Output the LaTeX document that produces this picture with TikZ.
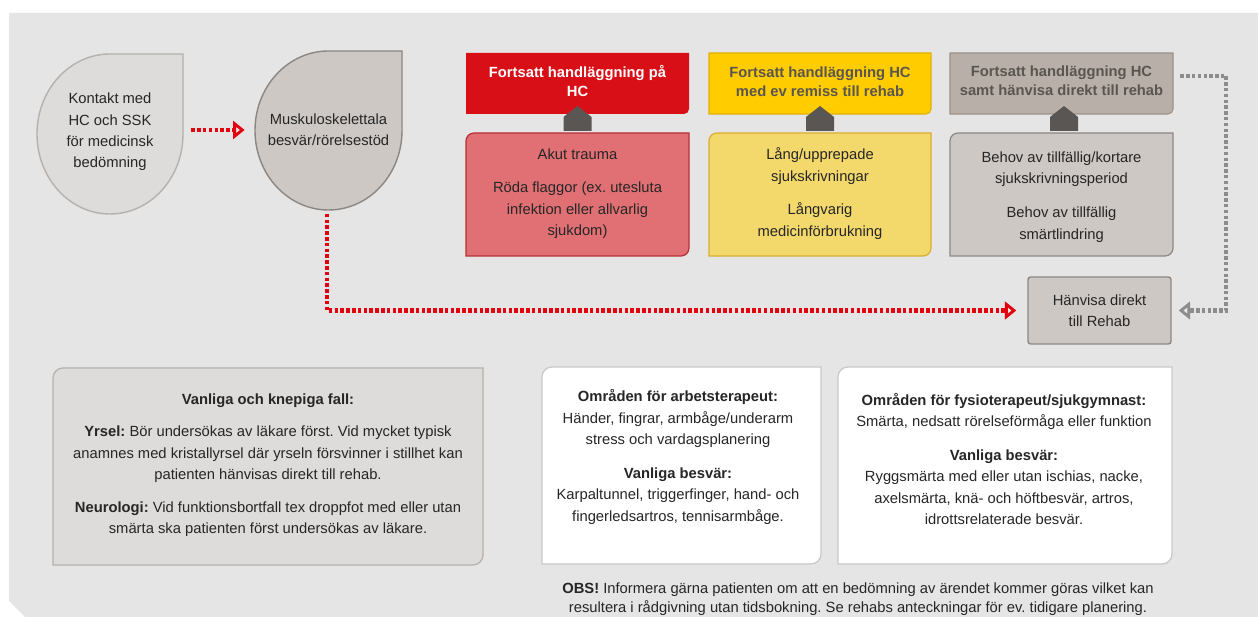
\documentclass[tikz,border=0pt]{standalone}
\usepackage{fontspec}
\setmainfont{Liberation Sans}
\usepackage{xcolor}
\usetikzlibrary{arrows.meta, positioning}
\frenchspacing
\definecolor{panelgrey}{HTML}{E5E5E5}
\definecolor{inktext}{HTML}{262626}
\definecolor{dropfill}{HTML}{DEDCDA}
\definecolor{dropline}{HTML}{B4B1AE}
\definecolor{stonefill}{HTML}{CDC8C4}
\definecolor{stoneline}{HTML}{8C8783}
\definecolor{hcred}{HTML}{D90F17}
\definecolor{hcredlight}{HTML}{E07074}
\definecolor{hcredline}{HTML}{B83036}
\definecolor{remissyellow}{HTML}{FFCC00}
\definecolor{remissyellowline}{HTML}{E0B000}
\definecolor{remisslight}{HTML}{F3D86C}
\definecolor{remisslightline}{HTML}{D8B030}
\definecolor{directgrey}{HTML}{B7AFA8}
\definecolor{directgreyline}{HTML}{9A928B}
\definecolor{headink}{HTML}{5A5550}
\definecolor{housegrey}{HTML}{5A5654}
\definecolor{flowred}{HTML}{E3000F}
\definecolor{flowgrey}{HTML}{8C8C8C}
\definecolor{whiteline}{HTML}{C8C8C8}

% box with rounded top-left and bottom-right corners
\newcommand{\cornerbox}[7]{%
  \path[#7] (#1,#2+#5) -- (#1,#4) -- (#3-#6,#4) arc[start angle=90, end angle=0, radius=#6]
    -- (#3,#2) -- (#1+#5,#2) arc[start angle=270, end angle=180, radius=#5] -- cycle;}

\begin{document}
\begin{tikzpicture}[x=0.02cm, y=-0.02cm,
    flowtext/.style={font=\fontsize{8.4}{12.2}\selectfont, text=inktext, align=center, inner sep=0pt},
    headtext/.style={font=\fontsize{8.4}{10.6}\selectfont\bfseries, align=center, inner sep=0pt},
    headbox/.style={minimum width=4.46cm, minimum height=1.22cm},
    redflow/.style={draw=flowred, line width=2.3pt, dash pattern=on 2pt off 1.3pt,
      -{Triangle[open, length=6.5pt, width=10pt, line width=2pt]}},
    greyflow/.style={redflow, draw=flowgrey}]
        % Canvas
        \fill[white] (0,0) rectangle (1258,617);
        \useasboundingbox (0,0) rectangle (1258,617);
        \fill[panelgrey] (9,13) -- (1258,13) -- (1258,617) -- (25,617) -- (9,601) -- cycle;

        % Drops
        \filldraw[fill=dropfill, draw=dropline, line width=0.8pt] (183,54) -- (183,134)
            arc[start angle=0, end angle=270, x radius=73, y radius=80] -- cycle;
        \filldraw[fill=stonefill, draw=stoneline, line width=0.8pt] (402,51) -- (402,130.5)
            arc[start angle=0, end angle=270, x radius=73.5, y radius=79.5] -- cycle;
        \node[flowtext, minimum width=2.92cm, minimum height=3.2cm] (contact) at (110,132)
            {Kontakt med\\HC och SSK\\för medicinsk\\bedömning};
        \node[flowtext, minimum width=2.94cm, minimum height=3.18cm] (msk) at (328.5,130)
            {Muskuloskelettala\\besvär/rörelsestöd};

        % Headers
        \cornerbox{466}{53}{689}{114}{0.01}{5}{fill=hcred}
        \cornerbox{709}{53}{931}{114}{0.01}{5}{fill=remissyellow, draw=remissyellowline, line width=0.6pt}
        \cornerbox{950}{53}{1173}{114}{0.01}{5}{fill=directgrey, draw=directgreyline, line width=0.6pt}
        \node[headtext, headbox, text=white] (redhead) at (577.5,81) {Fortsatt handläggning på\\HC};
        \node[headtext, headbox, text=headink] (yellowhead) at (820,82) {Fortsatt handläggning HC\\med ev remiss till rehab};
        \node[headtext, headbox, text=headink] (greyhead) at (1061.5,80.5) {Fortsatt handläggning HC\\samt hänvisa direkt till rehab};

        % Criteria
        \cornerbox{466}{133}{689}{256}{8}{8}{fill=hcredlight, draw=hcredline, line width=0.7pt}
        \cornerbox{709}{133}{931}{256}{8}{8}{fill=remisslight, draw=remisslightline, line width=0.7pt}
        \cornerbox{950}{133}{1173}{256}{8}{8}{fill=stonefill, draw=stoneline, line width=0.7pt}
        \node[flowtext] (redbody) at (577.5,194)
            {Akut trauma\\[6.5pt]Röda flaggor (ex. utesluta\\infektion eller allvarlig\\sjukdom)};
        \node[flowtext] (yellowbody) at (820,193.5)
            {Lång/upprepade\\sjukskrivningar\\[7pt]Långvarig\\medicinförbrukning};
        \node[flowtext] (greybody) at (1061.5,197)
            {Behov av tillfällig/kortare\\sjukskrivningsperiod\\[7pt]Behov av tillfällig\\smärtlindring};

        % Houses
        \foreach \cx in {577.5,820,1064} {
            \fill[housegrey] (\cx-14,131) -- (\cx-14,117) -- (\cx,106) -- (\cx+14,117) -- (\cx+14,131) -- cycle;
        }

        % Rehab
        \node[flowtext, fill=stonefill, draw=stoneline, line width=0.8pt, rounded corners=1.5pt,
            minimum width=2.86cm, minimum height=1.34cm] (rehab) at (1099.5,310.5) {Hänvisa direkt\\till Rehab};

        % Flows
        \draw[redflow, shorten <=0.16cm, shorten >=0.2cm] (contact.east |- msk.west) -- (msk.west);
        \draw[redflow, shorten <=0.08cm, shorten >=0.22cm] ([xshift=-0.03cm]msk.south) |- (rehab.west);
        \draw[greyflow, shorten <=0.14cm, shorten >=0.14cm] ([yshift=0.09cm]greyhead.east) -- ++(53,0) |- (rehab.east);

        % Notes
        \cornerbox{53}{368}{483}{565}{10}{10}{fill=dropfill, draw=dropline, line width=0.7pt}
        \cornerbox{542}{367}{821}{564}{10}{10}{fill=white, draw=whiteline, line width=0.7pt}
        \cornerbox{838}{367}{1172}{564}{10}{10}{fill=white, draw=whiteline, line width=0.7pt}
        \node[flowtext] (cases) at (268,465.5)
            {\textbf{Vanliga och knepiga fall:}\\[6pt]
             \textbf{Yrsel:} Bör undersökas av läkare först. Vid mycket typisk\\
             anamnes med kristallyrsel där yrseln försvinner i stillhet kan\\
             patienten hänvisas direkt till rehab.\\[6.5pt]
             \textbf{Neurologi:} Vid funktionsbortfall tex droppfot med eller utan\\
             smärta ska patienten först undersökas av läkare.};
        \node[flowtext] (otarea) at (678,457)
            {\textbf{Områden för arbetsterapeut:}\\
             Händer, fingrar, armbåge/underarm\\
             stress och vardagsplanering\\[7pt]
             \textbf{Vanliga besvär:}\\
             Karpaltunnel, triggerfinger, hand- och\\
             fingerledsartros, tennisarmbåge.};
        \node[flowtext] (ptarea) at (1004,459)
            {\textbf{Områden för fysioterapeut/sjukgymnast:}\\
             Smärta, nedsatt rörelseförmåga eller funktion\\[7pt]
             \textbf{Vanliga besvär:}\\
             Ryggsmärta med eller utan ischias, nacke,\\
             axelsmärta, knä- och höftbesvär, artros,\\
             idrottsrelaterade besvär.};
        \node[flowtext, font=\fontsize{8.4}{10.8}\selectfont] (obs) at (858,599.5)
            {\textbf{OBS!} Informera gärna patienten om att en bedömning av ärendet kommer göras vilket kan\\
             resultera i rådgivning utan tidsbokning. Se rehabs anteckningar för ev. tidigare planering.};
    \end{tikzpicture}
\end{document}
